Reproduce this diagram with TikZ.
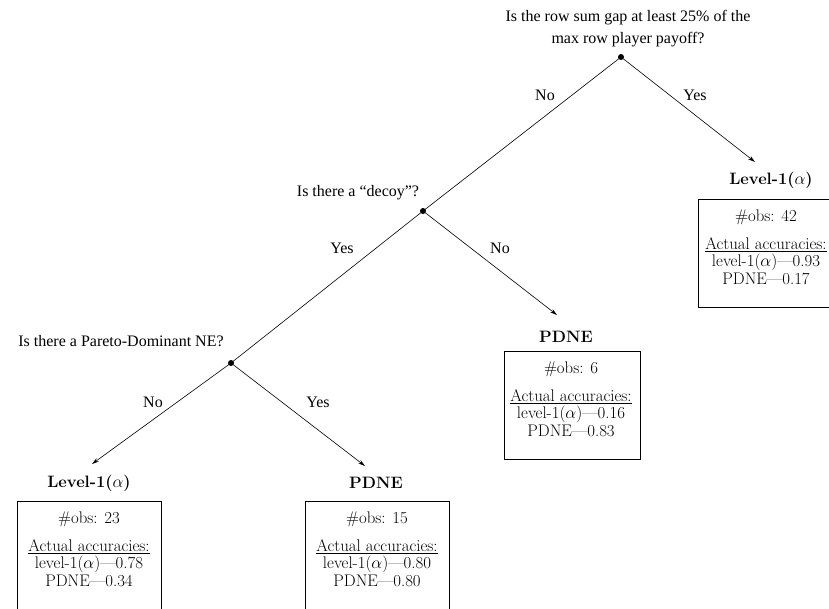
\documentclass[tikz,border=0pt]{standalone}
\usepackage{fontspec}
\newfontfamily\qfont{Liberation Serif}
\usetikzlibrary{arrows.meta}
\begin{document}
\begin{tikzpicture}[x=1pt,y=-1pt,
  q/.style={font=\qfont\fontsize{16}{22}\selectfont, inner sep=0pt, align=center},
  lbl/.style={font=\qfont\fontsize{16}{20}\selectfont, inner sep=0pt},
  leaf/.style={font=\fontsize{16.5}{18}\selectfont\bfseries, inner sep=0pt},
  boxtxt/.style={font=\fontsize{16.8}{17.5}\selectfont, inner sep=0pt, align=center, anchor=north},
  edge/.style={line width=0.6pt},
  arr/.style={line width=0.6pt, -{Stealth[length=7pt,width=4pt]}},
  dot/.style={circle, fill, inner sep=0pt, minimum size=6pt}
]
\useasboundingbox (0,0) rectangle (829,608);
\clip (0,0) rectangle (829,608);

% decision points
\node[dot] (R) at (621,57) {};
\node[dot] (D) at (423,211) {};
\node[dot] (P) at (231,363) {};

% questions
\node[q] (q1) at (628,29) {Is the row sum gap at least 25\% of the\\ max row player payoff?};
\node[q] (q2) at (358,193) {Is there a “decoy”?};
\node[q] (q3) at (121,341) {Is there a Pareto-Dominant NE?};

% arrow tips
\coordinate (t4) at (755,162);
\coordinate (t3) at (557,315);
\coordinate (t2) at (365,466);
\coordinate (t1) at (92,464);

% edges
\draw[edge] (R.center) -- (D.center);
\draw[edge] (D.center) -- (P.center);
\draw[arr] (R.center) -- (t4);
\draw[arr] (D.center) -- (t3);
\draw[arr] (P.center) -- (t2);
\draw[arr] (P.center) -- (t1);

% edge labels
\node[lbl] (l1) at (545,95) {No};
\node[lbl] (l2) at (695,95) {Yes};
\node[lbl] (l3) at (342,248) {Yes};
\node[lbl] (l4) at (500,248) {No};
\node[lbl] (l5) at (153,402) {No};
\node[lbl] (l6) at (318,402) {Yes};

% leaf labels
\node[leaf] (n4) at (771,180) {Level-1($\alpha$)};
\node[leaf] (n3) at (566,337) {PDNE};
\node[leaf] (n1) at (89,483) {Level-1($\alpha$)};
\node[leaf] (n2) at (376,483) {PDNE};

% boxes
\draw[line width=0.6pt] (698,199) rectangle (845,307);
\draw[line width=0.6pt] (504,351) rectangle (640,459);
\draw[line width=0.6pt] (17,501) rectangle (161,640);
\draw[line width=0.6pt] (305,501) rectangle (449,640);

\node[boxtxt] (b4) at (766,210) {\#obs: 42\\[10pt]\underline{Actual accuracies:}\\ level-1($\alpha$)---0.93\\ PDNE---0.17};
\node[boxtxt] (b3) at (571,362) {\#obs: 6\\[10pt]\underline{Actual accuracies:}\\ level-1($\alpha$)---0.16\\ PDNE---0.83};
\node[boxtxt] (b1) at (89,512) {\#obs: 23\\[10pt]\underline{Actual accuracies:}\\ level-1($\alpha$)---0.78\\ PDNE---0.34};
\node[boxtxt] (b2) at (377,512) {\#obs: 15\\[10pt]\underline{Actual accuracies:}\\ level-1($\alpha$)---0.80\\ PDNE---0.80};
\end{tikzpicture}
\end{document}
